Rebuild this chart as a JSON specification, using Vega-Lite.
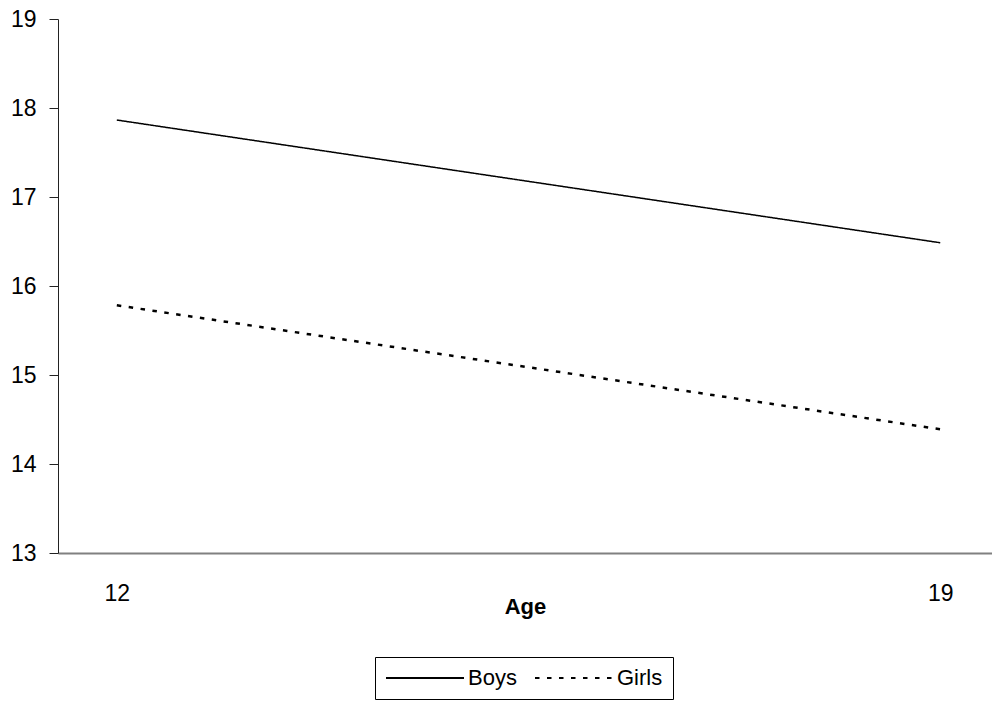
{
  "$schema": "https://vega.github.io/schema/vega-lite/v6.json",
  "autosize": {"type": "none"},
  "padding": {"left": 58, "top": 19, "right": 0, "bottom": 148},
  "width": 934,
  "height": 534,
  "background": "white",
  "config": {
    "view": {"stroke": null},
    "font": "Liberation Sans"
  },
  "data": {
    "values": [
      {"age": 12, "sex": "Boys", "value": 17.865},
      {"age": 13, "sex": "Boys", "value": 17.668},
      {"age": 14, "sex": "Boys", "value": 17.471},
      {"age": 15, "sex": "Boys", "value": 17.274},
      {"age": 16, "sex": "Boys", "value": 17.077},
      {"age": 17, "sex": "Boys", "value": 16.880},
      {"age": 18, "sex": "Boys", "value": 16.683},
      {"age": 19, "sex": "Boys", "value": 16.486},
      {"age": 12, "sex": "Girls", "value": 15.783},
      {"age": 13, "sex": "Girls", "value": 15.584},
      {"age": 14, "sex": "Girls", "value": 15.385},
      {"age": 15, "sex": "Girls", "value": 15.186},
      {"age": 16, "sex": "Girls", "value": 14.987},
      {"age": 17, "sex": "Girls", "value": 14.788},
      {"age": 18, "sex": "Girls", "value": 14.589},
      {"age": 19, "sex": "Girls", "value": 14.39}
    ]
  },
  "mark": {"type": "line", "color": "black", "clip": false},
  "encoding": {
    "x": {
      "field": "age",
      "type": "quantitative",
      "scale": {"domain": [11.5, 19.44], "nice": false, "zero": false},
      "axis": {
        "title": "Age",
        "values": [12, 19],
        "grid": false,
        "ticks": false,
        "tickSize": 0,
        "domainColor": "#808080",
        "domainWidth": 2,
        "labelFontSize": 23,
        "labelColor": "black",
        "labelBaseline": "alphabetic",
        "labelPadding": 47,
        "labelFlush": false,
        "titleFontSize": 22,
        "titleFontWeight": "bold",
        "titleColor": "black",
        "titleBaseline": "alphabetic",
        "titleY": 60
      }
    },
    "y": {
      "field": "value",
      "type": "quantitative",
      "scale": {"domain": [13, 19], "nice": false, "zero": false},
      "axis": {
        "title": null,
        "values": [13, 14, 15, 16, 17, 18, 19],
        "grid": false,
        "domainColor": "#222222",
        "domainWidth": 1,
        "tickColor": "#222222",
        "tickSize": 9,
        "labelFontSize": 23,
        "labelColor": "black",
        "labelPadding": 13,
        "labelFlush": false
      }
    },
    "strokeDash": {
      "field": "sex",
      "type": "nominal",
      "scale": {"domain": ["Boys", "Girls"], "range": [[1, 0], [4.5, 7.5]]},
      "legend": {
        "title": null,
        "orient": "none",
        "direction": "horizontal",
        "legendX": 317,
        "legendY": 638,
        "padding": 10,
        "strokeColor": "black",
        "fillColor": "white",
        "cornerRadius": 0,
        "symbolType": "M-1,0H6.8",
        "symbolSize": 400,
        "symbolStrokeWidth": 2,
        "symbolStrokeColor": "black",
        "labelFontSize": 22,
        "labelColor": "black",
        "labelOffset": 3,
        "columnPadding": 14,
        "encode": {
          "labels": {"update": {"dx": {"value": 58}}},
          "symbols": {"update": {"strokeDash": {"signal": "datum.value === 'Girls' ? [4, 4] : [1, 0]"}}}
        }
      }
    },
    "strokeWidth": {
      "condition": {"test": "datum.sex === 'Girls'", "value": 2.5},
      "value": 1.5
    }
  }
}
